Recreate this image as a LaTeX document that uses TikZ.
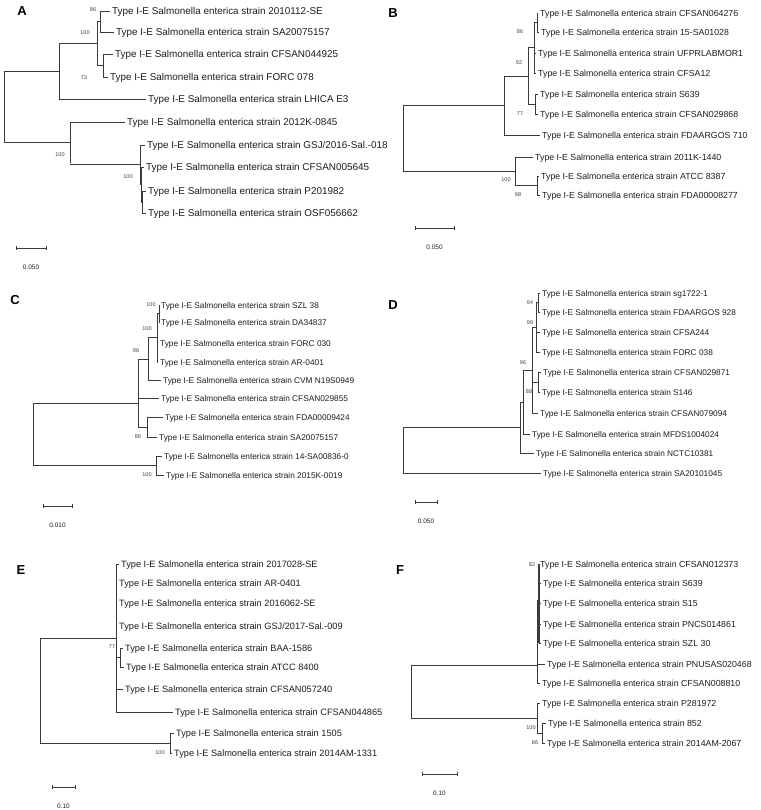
\documentclass[tikz,border=0pt]{standalone}
\usepackage{fontspec}
\setmainfont{Liberation Sans}
\definecolor{lc}{HTML}{3A3A3A}
\definecolor{tc}{HTML}{1E1E1E}
\definecolor{bc}{HTML}{404040}
\tikzset{
  br/.style={draw=lc, line width=0.7pt},
  leaf/.style={anchor=west, inner xsep=2.5pt, inner ysep=0pt, text height=0.72em, text depth=0pt, text=tc},
  bs/.style={font=\fontsize{5.5}{6}\selectfont, text=bc, inner sep=0pt},
  plab/.style={font=\fontsize{13}{14}\selectfont\bfseries, inner sep=0pt, text=black},
  sclab/.style={font=\fontsize{6.5}{7}\selectfont, inner sep=0pt, text=tc},
}
\newcommand\leafnode[5]{%
  \node[leaf] (#1) at ({#3-2.5},#4) {Type I-E Salmonella enterica strain #5};
  \coordinate (#1p) at (#2,#4);
  \draw[br] (#1p) -- (#1.west);}
% clade: vertical at x=#1 from #2 to #3, joined at midpoint from parent x=#4
\newcommand\clade[4]{\draw[br] (#4,{(#2+#3)/2}) -- (#1,{(#2+#3)/2}) (#1,#2) -- (#1,#3);}
\newcommand\scalebar[5]{%
  \coordinate (#1l) at (#2,#4); \coordinate (#1r) at (#3,#4);
  \draw[br] (#1l) -- (#1r) ([yshift=2pt]#1l) -- ([yshift=-2pt]#1l) ([yshift=2pt]#1r) -- ([yshift=-2pt]#1r);
  \node[sclab] (#1t) at ({(#2+#3)/2},{#4+19}) {#5};}
\begin{document}
\begin{tikzpicture}[x=1pt,y=-1pt]
\useasboundingbox[fill=white] (0,0) rectangle (760,810);

% ================= Panel A =================
\node[plab] (pA) at (22,11) {A};
\begin{scope}[font=\fontsize{9.9}{11}\selectfont]
\draw[br] (4,71) -- (4,142.5);
\clade{59}{43.5}{99}{4}
\clade{97}{21.5}{65.5}{59}
\clade{100}{11}{32}{97}
\clade{103}{54}{77}{97}
\leafnode{a1}{100}{112}{11}{2010112-SE}
\leafnode{a2}{100}{116}{32}{SA20075157}
\leafnode{a3}{103}{115}{54}{CFSAN044925}
\leafnode{a4}{103}{110}{77}{FORC 078}
\leafnode{a5}{59}{148}{99}{LHICA E3}
\clade{70}{122}{163}{4}
\clade{140}{145}{184}{70}
\clade{141}{167}{202}{140}
\clade{142}{191}{213}{141}
\leafnode{a6}{70}{127}{122}{2012K-0845}
\leafnode{a7}{140}{147}{145}{GSJ/2016-Sal.-018}
\leafnode{a8}{141}{146}{167}{CFSAN005645}
\leafnode{a9}{142}{148}{191}{P201982}
\leafnode{a10}{142}{148}{213}{OSF056662}
\end{scope}
\node[bs] (bA1) at (93,10) {86};
\node[bs] (bA2) at (85,33) {100};
\node[bs] (bA3) at (84,78) {73};
\node[bs] (bA4) at (60,155) {100};
\node[bs] (bA5) at (128,177) {100};
\scalebar{sA}{16}{46}{248}{0.050}

% ================= Panel B =================
\node[plab] (pB) at (393,13) {B};
\begin{scope}[font=\fontsize{8.8}{10}\selectfont]
\draw[br] (403,105.5) -- (403,171.25);
\clade{504}{76}{135}{403}
\clade{528}{47.75}{104}{504}
\clade{534}{22.5}{73}{528}
\clade{537}{13}{32}{534}
\clade{535}{94}{114}{528}
\leafnode{b1}{537}{540}{13}{CFSAN064276}
\leafnode{b2}{537}{541}{32}{15-SA01028}
\leafnode{b3}{534}{538}{53}{UFPRLABMOR1}
\leafnode{b4}{534}{538}{73}{CFSA12}
\leafnode{b5}{535}{540}{94}{S639}
\leafnode{b6}{535}{540}{114}{CFSAN029868}
\leafnode{b7}{504}{542}{135}{FDAARGOS 710}
\clade{515}{157}{185.5}{403}
\clade{537}{176}{195}{515}
\leafnode{b8}{515}{535}{157}{2011K-1440}
\leafnode{b9}{537}{541}{176}{ATCC 8387}
\leafnode{b10}{537}{542}{195}{FDA00008277}
\end{scope}
\node[bs] (bB1) at (520,32) {86};
\node[bs] (bB2) at (519,63) {92};
\node[bs] (bB3) at (520,114) {77};
\node[bs] (bB4) at (506,180) {100};
\node[bs] (bB5) at (518,195) {98};
\scalebar{sB}{415}{454}{228}{0.050}

% ================= Panel C =================
\node[plab] (pC) at (15,300) {C};
\begin{scope}[font=\fontsize{8.3}{9.5}\selectfont]
\draw[br] (33,403) -- (33,465.5);
\draw[br] (33,403) -- (138,403) (138,359) -- (138,427);
\clade{148}{338}{380}{138}
\clade{157}{313.5}{362}{148}
\clade{159}{305}{322}{157}
\clade{147}{417}{437}{138}
\leafnode{c1}{159}{161}{305}{SZL 38}
\leafnode{c2}{159}{161}{322}{DA34837}
\leafnode{c3}{157}{160}{343}{FORC 030}
\leafnode{c4}{157}{160}{362}{AR-0401}
\leafnode{c5}{148}{163}{380}{CVM N19S0949}
\leafnode{c6}{138}{161}{398}{CFSAN029855}
\leafnode{c7}{147}{165}{417}{FDA00009424}
\leafnode{c8}{147}{159}{437}{SA20075157}
\clade{156}{456}{475}{33}
\leafnode{c9}{156}{164}{456}{14-SA00836-0}
\leafnode{c10}{156}{166}{475}{2015K-0019}
\end{scope}
\node[bs] (bC1) at (151,305) {100};
\node[bs] (bC2) at (147,329) {100};
\node[bs] (bC3) at (136,351) {96};
\node[bs] (bC4) at (138,437) {86};
\node[bs] (bC5) at (147,475) {100};
\scalebar{sC}{43}{72}{506}{0.010}

% ================= Panel D =================
\node[plab] (pD) at (393,305) {D};
\begin{scope}[font=\fontsize{8.3}{9.5}\selectfont]
\draw[br] (403,427.5) -- (403,473);
\clade{520}{402}{453}{403}
\clade{523}{370}{434}{520}
\clade{532}{327.25}{413}{523}
\clade{536}{302.5}{352}{532}
\clade{538}{293}{312}{536}
\clade{538}{372}{392}{532}
\leafnode{d1}{538}{542}{293}{sg1722-1}
\leafnode{d2}{538}{542}{312}{FDAARGOS 928}
\leafnode{d3}{536}{542}{332}{CFSA244}
\leafnode{d4}{536}{542}{352}{FORC 038}
\leafnode{d5}{538}{543}{372}{CFSAN029871}
\leafnode{d6}{538}{542}{392}{S146}
\leafnode{d7}{532}{540}{413}{CFSAN079094}
\leafnode{d8}{523}{532}{434}{MFDS1004024}
\leafnode{d9}{520}{536}{453}{NCTC10381}
\leafnode{d10}{403}{543}{473}{SA20101045}
\end{scope}
\node[bs] (bD1) at (530,303) {94};
\node[bs] (bD2) at (530,323) {99};
\node[bs] (bD3) at (523,363) {96};
\node[bs] (bD4) at (529,392) {88};
\scalebar{sD}{415}{437}{502}{0.050}

% ================= Panel E =================
\node[plab] (pE) at (21,570) {E};
\begin{scope}[font=\fontsize{9.2}{10.5}\selectfont]
\draw[br] (40,638) -- (40,743);
\clade{116}{564}{712}{40}
\clade{120}{648}{667}{116}
\leafnode{e1}{116}{121}{564}{2017028-SE}
\leafnode{e2}{116}{119}{583}{AR-0401}
\leafnode{e3}{116}{119}{603}{2016062-SE}
\leafnode{e4}{116}{119}{626}{GSJ/2017-Sal.-009}
\leafnode{e5}{120}{125}{648}{BAA-1586}
\leafnode{e6}{120}{126}{667}{ATCC 8400}
\leafnode{e7}{116}{125}{689}{CFSAN057240}
\leafnode{e8}{116}{175}{712}{CFSAN044865}
\clade{170}{733}{753}{40}
\leafnode{e9}{170}{176}{733}{1505}
\leafnode{e10}{170}{174}{753}{2014AM-1331}
\end{scope}
\node[bs] (bE1) at (112,647) {77};
\node[bs] (bE2) at (160,753) {100};
\scalebar{sE}{52}{75}{787}{0.10}

% ================= Panel F =================
\node[plab] (pF) at (400,570) {F};
\begin{scope}[font=\fontsize{8.8}{10}\selectfont]
\draw[br] (411,665) -- (411,718);
\draw[br] (411,665) -- (537,665) (537,600) -- (537,683);
\draw[br, line width=1.1pt] (539,564) -- (539,643);
\draw[br] (537,604) -- (539,604);
\leafnode{f1}{539}{540}{564}{CFSAN012373}
\leafnode{f2}{539}{543}{583}{S639}
\leafnode{f3}{539}{543}{603}{S15}
\leafnode{f4}{539}{543}{624}{PNCS014861}
\leafnode{f5}{539}{543}{643}{SZL 30}
\leafnode{f6}{537}{547}{664}{PNUSAS020468}
\leafnode{f7}{537}{542}{683}{CFSAN008810}
\clade{537}{703}{733}{411}
\clade{542}{723}{743}{537}
\leafnode{f8}{537}{542}{703}{P281972}
\leafnode{f9}{542}{548}{723}{852}
\leafnode{f10}{542}{547}{743}{2014AM-2067}
\end{scope}
\node[bs] (bF1) at (532,565) {82};
\node[bs] (bF2) at (531,728) {100};
\node[bs] (bF3) at (535,743) {86};
\scalebar{sF}{422}{457}{774}{0.10}
\end{tikzpicture}
\end{document}
